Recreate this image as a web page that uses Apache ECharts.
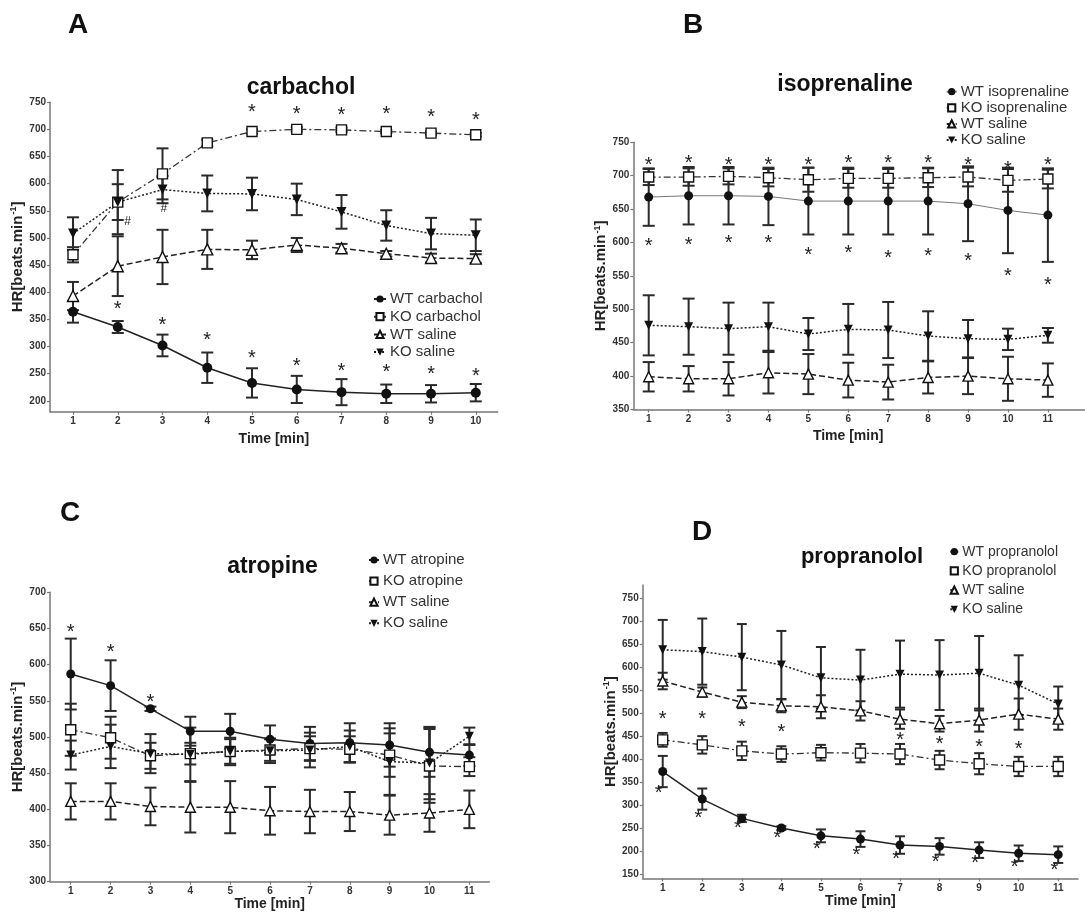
<!DOCTYPE html>
<html>
<head>
<meta charset="utf-8">
<script src="https://cdn.jsdelivr.net/npm/echarts@6/dist/echarts.min.js"></script>
<style>
  html, body { margin: 0; padding: 0; background: #fff; }
  #chart { width: 1085px; height: 914px; }
</style>
</head>
<body>
<div id="chart"></div>
<script>
// time points
const minutesA = [1, 2, 3, 4, 5, 6, 7, 8, 9, 10]
const minutes = [1, 2, 3, 4, 5, 6, 7, 8, 9, 10, 11]

// tick labels
const yTicksA = [200, 250, 300, 350, 400, 450, 500, 550, 600, 650, 700, 750]
const yTicksB = [350, 400, 450, 500, 550, 600, 650, 700, 750]
const yTicksC = [300, 350, 400, 450, 500, 550, 600, 650, 700]
const yTicksD = [150, 200, 250, 300, 350, 400, 450, 500, 550, 600, 650, 700, 750]

// A - carbachol
const aWtDrugMean = [364, 336, 302, 261, 233, 221, 216, 213, 213, 215]
const aWtDrugErr = [20, 11, 20, 28, 27, 25, 24, 17, 16, 16]
const aKoDrugMean = [469, 566, 618, 675, 696, 700, 699, 696, 693, 690]
const aKoDrugErr = [14, 33, 47, 6, 4, 4, 4, 3, 3, 3]
const aWtSalMean = [393, 448, 465, 479, 478, 487, 481, 471, 463, 462]
const aWtSalErr = [26, 55, 50, 36, 17, 13, 8, 5, 8, 8]
const aKoSalMean = [508, 566, 589, 582, 581, 571, 548, 523, 508, 505]
const aKoSalErr = [30, 59, 25, 33, 30, 29, 31, 28, 29, 29]
const aStarLowX = [2, 3, 4, 5, 6, 7, 8, 9, 10]
const aStarLowY = [376, 346, 318, 286, 270, 262, 259, 256, 252]
const aStarHighX = [5, 6, 7, 8, 9, 10]
const aStarHighY = [738, 735, 732, 735, 730, 724]
const aHashX = [2.22, 3.03]
const aHashY = [530, 554]

// B - isoprenaline
const bWtDrugMean = [668, 670, 670, 669, 662, 662, 662, 662, 658, 648, 641]
const bWtDrugErr = [43, 43, 43, 43, 50, 50, 50, 50, 56, 64, 70]
const bKoDrugMean = [698, 698, 699, 697, 694, 696, 696, 697, 698, 693, 695]
const bKoDrugErr = [12, 13, 12, 13, 18, 14, 14, 14, 14, 17, 14]
const bWtSalMean = [399, 396, 396, 405, 403, 394, 391, 398, 400, 396, 394]
const bWtSalErr = [22, 19, 25, 31, 30, 26, 26, 24, 27, 33, 25]
const bKoSalMean = [476, 474, 471, 474, 463, 470, 469, 460, 456, 455, 461]
const bKoSalErr = [45, 42, 39, 36, 24, 38, 42, 37, 28, 16, 11]
const bStarHighY = [722, 724, 722, 722, 721, 724, 724, 724, 722, 716, 722]
const bStarLowY = [600, 602, 605, 605, 587, 589, 582, 585, 577, 555, 541]

// C - atropine
const cWtDrugMean = [587, 571, 539, 508, 508, 497, 491, 492, 489, 479, 475]
const cWtDrugErr = [49, 35, 3, 20, 24, 19, 23, 27, 30, 34, 15]
const cKoDrugMean = [510, 499, 474, 477, 480, 482, 484, 483, 475, 460, 459]
const cKoDrugErr = [36, 29, 18, 15, 17, 15, 17, 18, 30, 51, 13]
const cWtSalMean = [411, 411, 404, 403, 403, 398, 397, 397, 392, 395, 400]
const cWtSalErr = [25, 25, 26, 35, 36, 33, 30, 27, 27, 26, 26]
const cKoSalMean = [475, 487, 477, 476, 480, 481, 482, 487, 466, 464, 501]
const cKoSalErr = [20, 30, 27, 37, 19, 17, 24, 22, 46, 50, 12]
const cStarX = [1, 2, 3]
const cStarY = [650, 622, 553]

// D - propranolol
const dWtDrugMean = [373, 313, 271, 250, 233, 226, 213, 210, 202, 195, 192]
const dWtDrugErr = [34, 23, 8, 4, 14, 17, 19, 18, 17, 17, 18]
const dKoDrugMean = [442, 431, 418, 411, 414, 413, 411, 398, 390, 384, 384]
const dKoDrugErr = [15, 19, 20, 17, 17, 20, 22, 20, 23, 21, 21]
const dWtSalMean = [570, 546, 524, 516, 514, 505, 487, 477, 485, 498, 487]
const dWtSalErr = [18, 10, 13, 14, 25, 21, 21, 17, 25, 34, 23]
const dKoSalMean = [638, 634, 622, 605, 577, 572, 585, 583, 587, 561, 520]
const dKoSalErr = [65, 72, 72, 74, 67, 66, 73, 76, 81, 65, 38]
const dStarHighX = [1, 2, 3, 4, 7, 8, 9, 10]
const dStarHighY = [495, 496, 477, 466, 449, 440, 435, 429]
const dStarLowX = [0.9, 1.9, 2.9, 3.9, 4.9, 5.9, 6.9, 7.9, 8.9, 9.9, 10.9]
const dStarLowY = [333, 280, 257, 235, 213, 200, 190, 183, 181, 173, 166]

const FONT = 'Liberation Sans, Arial, sans-serif'
const INK = '#222'
const AXIS = '#777'
const downTri = 'path://M0,0 L10,0 L5,9 Z'

// marker / line look per group
const styles = {
  wtDrug: { symbol: 'circle', fill: '#111', line: { color: '#222', width: 1.5, type: 'solid' } },
  koDrug: { symbol: 'rect', fill: '#fff', line: { color: '#333', width: 1.3, type: [7, 3, 2, 3] } },
  wtSal: { symbol: 'triangle', fill: '#fff', line: { color: '#222', width: 1.5, type: [6, 3] } },
  koSal: { symbol: downTri, fill: '#111', line: { color: '#222', width: 1.5, type: [2, 2] } }
}

function lineSeries(name, idx, xs, means, key, size, lineOverride) {
  const s = styles[key]
  return {
    name: name,
    type: 'line',
    xAxisIndex: idx,
    yAxisIndex: idx,
    data: xs.map((x, i) => [x, means[i]]),
    symbol: s.symbol,
    symbolSize: size,
    showSymbol: true,
    z: 3,
    lineStyle: Object.assign({}, s.line, lineOverride || {}),
    itemStyle: { color: s.fill, borderColor: '#111', borderWidth: s.fill === '#fff' ? 1.4 : 0 },
    emphasis: { disabled: true },
    animation: false
  }
}

function errorSeries(idx, xs, means, errs, cap) {
  return {
    type: 'custom',
    xAxisIndex: idx,
    yAxisIndex: idx,
    z: 2,
    silent: true,
    data: xs.map((x, i) => [x, means[i] - errs[i], means[i] + errs[i]]),
    encode: { x: 0, y: [1, 2] },
    renderItem: (params, api) => {
      const lo = api.coord([api.value(0), api.value(1)])
      const hi = api.coord([api.value(0), api.value(2)])
      const st = { stroke: '#2a2a2a', lineWidth: 2 }
      return {
        type: 'group',
        children: [
          { type: 'line', shape: { x1: lo[0], y1: lo[1], x2: hi[0], y2: hi[1] }, style: st },
          { type: 'line', shape: { x1: hi[0] - cap, y1: hi[1], x2: hi[0] + cap, y2: hi[1] }, style: st },
          { type: 'line', shape: { x1: lo[0] - cap, y1: lo[1], x2: lo[0] + cap, y2: lo[1] }, style: st }
        ]
      }
    },
    animation: false
  }
}

function markSeries(idx, xs, ys, ch, size, dy) {
  return {
    type: 'custom',
    xAxisIndex: idx,
    yAxisIndex: idx,
    z: 4,
    silent: true,
    data: xs.map((x, i) => [x, ys[i]]),
    encode: { x: 0, y: 1 },
    renderItem: (params, api) => {
      const p = api.coord([api.value(0), api.value(1)])
      return {
        type: 'text',
        x: p[0],
        y: p[1] + dy,
        style: { text: ch, fill: '#222', font: `${size}px ${FONT}`, align: 'center', verticalAlign: 'middle' }
      }
    },
    animation: false
  }
}

function xAxis(idx, min, max, ticks, nameGap, namePad) {
  return {
    type: 'value',
    gridIndex: idx,
    min: min,
    max: max,
    axisLine: { show: true, lineStyle: { color: AXIS, width: 1.5 } },
    axisTick: { show: true, length: 3, customValues: ticks, lineStyle: { color: AXIS, width: 1.2 } },
    axisLabel: { customValues: ticks, fontSize: 10, fontWeight: 'bold', color: '#333', margin: 5, fontFamily: FONT },
    splitLine: { show: false },
    name: 'Time [min]',
    nameLocation: 'middle',
    nameGap: nameGap,
    nameTextStyle: { fontSize: 14, fontWeight: 'bold', color: INK, fontFamily: FONT, padding: namePad || 0 }
  }
}

function yAxis(idx, min, max, ticks, nameGap) {
  return {
    type: 'value',
    gridIndex: idx,
    min: min,
    max: max,
    axisLine: { show: true, lineStyle: { color: AXIS, width: 1.5 } },
    axisTick: { show: true, length: 3, customValues: ticks, lineStyle: { color: AXIS, width: 1.2 } },
    axisLabel: { customValues: ticks, fontSize: 10, fontWeight: 'bold', color: '#333', margin: 4, fontFamily: FONT },
    splitLine: { show: false },
    name: 'HR[beats.min{sup|-1}]',
    nameLocation: 'middle',
    nameGap: nameGap,
    nameTextStyle: {
      fontSize: 15, fontWeight: 'bold', color: INK, fontFamily: FONT,
      rich: { sup: { fontSize: 9, fontWeight: 'bold', color: INK, fontFamily: FONT, verticalAlign: 'top', padding: [0, 0, 8, 1] } }
    }
  }
}

function legend(names, left, top, fontSize, gap, itemWidth) {
  return {
    data: names,
    orient: 'vertical',
    left: left,
    top: top,
    padding: 0,
    itemWidth: itemWidth,
    itemHeight: 9,
    itemGap: gap,
    selectedMode: false,
    textStyle: { fontSize: fontSize, lineHeight: fontSize, color: '#333', fontFamily: FONT, padding: [0, 0, 0, -1] }
  }
}

function label(text, x, y, size) {
  return {
    type: 'text',
    x: x,
    y: y,
    style: { text: text, fill: '#111', font: `bold ${size}px ${FONT}`, align: 'center', verticalAlign: 'middle' }
  }
}

const series = [
  // A
  errorSeries(0, minutesA, aWtSalMean, aWtSalErr, 6),
  errorSeries(0, minutesA, aKoSalMean, aKoSalErr, 6),
  errorSeries(0, minutesA, aKoDrugMean, aKoDrugErr, 6),
  errorSeries(0, minutesA, aWtDrugMean, aWtDrugErr, 6),
  lineSeries('WT carbachol', 0, minutesA, aWtDrugMean, 'wtDrug', 10),
  lineSeries('KO carbachol', 0, minutesA, aKoDrugMean, 'koDrug', 10),
  lineSeries('WT saline', 0, minutesA, aWtSalMean, 'wtSal', 11),
  lineSeries('KO saline', 0, minutesA, aKoSalMean, 'koSal', 10),
  markSeries(0, aStarLowX, aStarLowY, '*', 20, 4),
  markSeries(0, aStarHighX, aStarHighY, '*', 20, 4),
  markSeries(0, aHashX, aHashY, '#', 12, 0),
  // B
  errorSeries(1, minutes, bWtSalMean, bWtSalErr, 6),
  errorSeries(1, minutes, bKoSalMean, bKoSalErr, 6),
  errorSeries(1, minutes, bWtDrugMean, bWtDrugErr, 6),
  errorSeries(1, minutes, bKoDrugMean, bKoDrugErr, 6),
  lineSeries('WT isoprenaline', 1, minutes, bWtDrugMean, 'wtDrug', 9, { color: '#777', width: 1 }),
  lineSeries('KO isoprenaline', 1, minutes, bKoDrugMean, 'koDrug', 10),
  lineSeries('WT saline', 1, minutes, bWtSalMean, 'wtSal', 10),
  lineSeries('KO saline', 1, minutes, bKoSalMean, 'koSal', 9),
  markSeries(1, minutes, bStarHighY, '*', 20, 4),
  markSeries(1, minutes, bStarLowY, '*', 20, 4),
  // C
  errorSeries(2, minutes, cWtSalMean, cWtSalErr, 6),
  errorSeries(2, minutes, cKoSalMean, cKoSalErr, 6),
  errorSeries(2, minutes, cKoDrugMean, cKoDrugErr, 6),
  errorSeries(2, minutes, cWtDrugMean, cWtDrugErr, 6),
  lineSeries('WT atropine', 2, minutes, cWtDrugMean, 'wtDrug', 9),
  lineSeries('KO atropine', 2, minutes, cKoDrugMean, 'koDrug', 10),
  lineSeries('WT saline', 2, minutes, cWtSalMean, 'wtSal', 10),
  lineSeries('KO saline', 2, minutes, cKoSalMean, 'koSal', 9),
  markSeries(2, cStarX, cStarY, '*', 20, 4),
  // D
  errorSeries(3, minutes, dKoSalMean, dKoSalErr, 5),
  errorSeries(3, minutes, dWtSalMean, dWtSalErr, 5),
  errorSeries(3, minutes, dKoDrugMean, dKoDrugErr, 5),
  errorSeries(3, minutes, dWtDrugMean, dWtDrugErr, 5),
  lineSeries('WT propranolol', 3, minutes, dWtDrugMean, 'wtDrug', 9),
  lineSeries('KO propranolol', 3, minutes, dKoDrugMean, 'koDrug', 10),
  lineSeries('WT saline', 3, minutes, dWtSalMean, 'wtSal', 10),
  lineSeries('KO saline', 3, minutes, dKoSalMean, 'koSal', 9),
  markSeries(3, dStarHighX, dStarHighY, '*', 20, 4),
  markSeries(3, dStarLowX, dStarLowY, '*', 20, 4)
]

const option = {
  backgroundColor: '#fff',
  animation: false,
  textStyle: { fontFamily: FONT },
  grid: [
    { left: 50, top: 102.2, width: 447.7, height: 309.5 },
    { left: 633.3, top: 142.3, width: 451.7, height: 267.2 },
    { left: 50, top: 592.3, width: 439.3, height: 289.4 },
    { left: 642.7, top: 585, width: 435.3, height: 293.3 }
  ],
  xAxis: [
    xAxis(0, 0.486, 10.49, minutesA, 20),
    xAxis(1, 0.614, 11.93, minutes, 20, [0, 22, 0, 0]),
    xAxis(2, 0.48, 11.5, minutes, 8),
    xAxis(3, 0.494, 11.5, minutes, 15)
  ],
  yAxis: [
    yAxis(0, 180, 750, yTicksA, 22),
    yAxis(1, 350, 750, yTicksB, 22),
    yAxis(2, 300, 700, yTicksC, 22),
    yAxis(3, 140.6, 779, yTicksD, 23)
  ],
  legend: [
    legend(['WT carbachol', 'KO carbachol', 'WT saline', 'KO saline'], 373, 291.5, 15, 2.7, 12),
    legend(['WT isoprenaline', 'KO isoprenaline', 'WT saline', 'KO saline'], 945.7, 84.2, 15, 1.1, 10),
    legend(['WT atropine', 'KO atropine', 'WT saline', 'KO saline'], 368, 552.5, 15, 6.1, 10),
    legend(['WT propranolol', 'KO propranolol', 'WT saline', 'KO saline'], 949.3, 544.7, 14, 5.2, 8)
  ],
  graphic: [
    label('A', 78, 25, 28),
    label('B', 693, 25, 28),
    label('C', 70, 513, 28),
    label('D', 702, 532, 28),
    label('carbachol', 301, 88, 23),
    label('isoprenaline', 845, 85, 23),
    label('atropine', 272.5, 567, 23),
    label('propranolol', 862, 557, 22)
  ],
  series: series
}

const chart = echarts.init(document.getElementById('chart'))
chart.setOption(option)
window.onresize = () => chart.resize()
</script>
</body>
</html>
